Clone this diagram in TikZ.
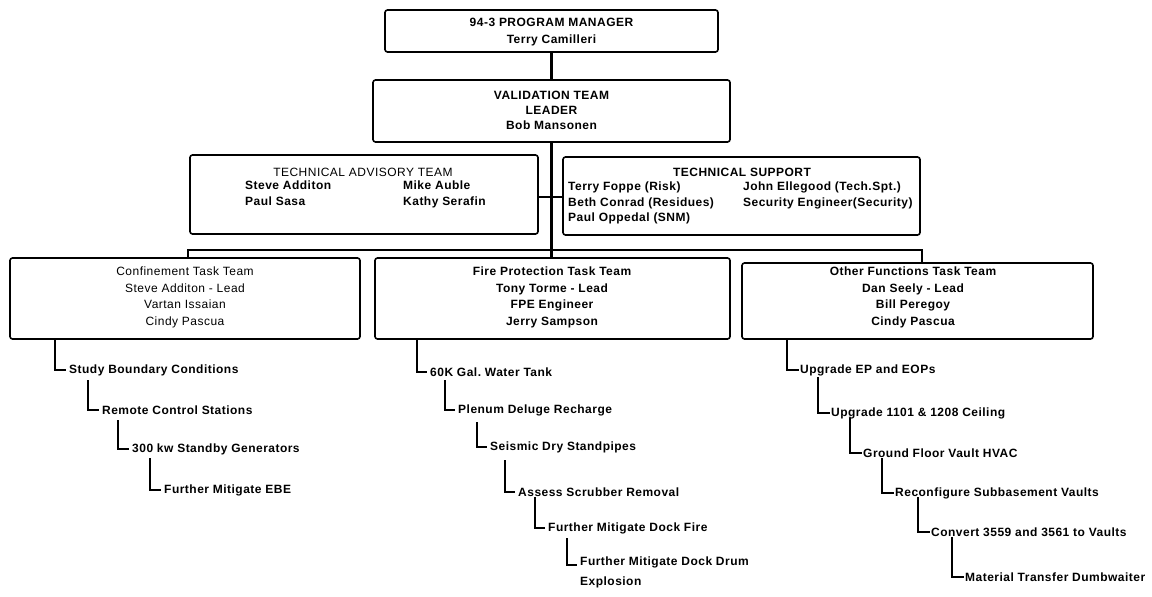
\documentclass[tikz,border=0pt]{standalone}
\usepackage{fontspec}
\setmainfont{Liberation Sans}[LetterSpace=4]
\frenchspacing
\begin{document}
\begin{tikzpicture}[x=1pt,y=-1pt,
  box/.style={draw, line width=1.6pt, rounded corners=2.5pt, inner sep=0pt},
  conn/.style={line width=2.6pt},
  bt/.style={font=\bfseries\fontsize{12}{16.5}\selectfont, inner sep=0pt, align=center},
  rt/.style={font=\fontsize{12}{16.5}\selectfont, inner sep=0pt, align=center},
  colt/.style={font=\bfseries\fontsize{12}{15.5}\selectfont, inner sep=0pt, align=left, anchor=north west},
  item/.style={font=\bfseries\fontsize{12}{20}\selectfont, inner xsep=3pt, inner ysep=0pt, anchor=west, align=left},
  itemb/.style={item, inner xsep=1pt}]
\useasboundingbox (0,0) rectangle (1152,597);
% boxes
\node[box, minimum width=333pt, minimum height=42pt] (pm) at (551.5,31) {};
\node[box, minimum width=357pt, minimum height=62pt] (vt) at (551.5,111) {};
\node[box, minimum width=348pt, minimum height=79pt] (adv) at (364,194.5) {};
\node[box, minimum width=357pt, minimum height=78pt] (sup) at (741.5,196) {};
\node[box, minimum width=350pt, minimum height=81pt] (conf) at (185,298.5) {};
\node[box, minimum width=355pt, minimum height=81pt] (fp) at (552.5,298.5) {};
\node[box, minimum width=351pt, minimum height=76pt] (oth) at (917.5,301) {};
% box texts
\node[bt, anchor=north] (pmt) at (551.5,18) {94-3 PROGRAM MANAGER\\Terry Camilleri};
\node[bt, anchor=north, font=\bfseries\fontsize{12}{15}\selectfont] (vtt) at (551.5,91) {VALIDATION TEAM\\LEADER\\Bob Mansonen};
\node[rt] (advh) at (363,172) {TECHNICAL ADVISORY TEAM};
\node[colt, font=\bfseries\fontsize{12}{16}\selectfont] (adv1) at (245,181) {Steve Additon\\Paul Sasa};
\node[colt, font=\bfseries\fontsize{12}{16}\selectfont] (adv2) at (403,181) {Mike Auble\\Kathy Serafin};
\node[bt] (suph) at (742,172) {TECHNICAL SUPPORT};
\node[colt] (sup1) at (568,182) {Terry Foppe (Risk)\\Beth Conrad (Residues)\\Paul Oppedal (SNM)};
\node[colt] (sup2) at (743,182) {John Ellegood (Tech.Spt.)\\Security Engineer(Security)};
\node[rt, anchor=north] (conft) at (185,267) {Confinement Task Team\\Steve Additon - Lead\\Vartan Issaian\\Cindy Pascua};
\node[bt, anchor=north] (fpt) at (552,267) {Fire Protection Task Team\\Tony Torme - Lead\\FPE Engineer\\Jerry Sampson};
\node[bt, anchor=north] (otht) at (913,267) {Other Functions Task Team\\Dan Seely - Lead\\Bill Peregoy\\Cindy Pascua};
% top connectors
\coordinate (jadv) at (551.5,197);
\coordinate (busL) at (188,250);
\coordinate (busR) at (922,250);
\draw[conn] (pm.south) -- (vt.north);
\draw[conn] (vt.south) -- (vt.south |- fp.north);
\draw[conn] (adv.east |- jadv) -- (sup.west |- jadv);
\draw[conn] (busL |- conf.north) -- (busL) -- (busR) -- (busR |- oth.north);
% confinement items
\node[item] (c1) at (66,370) {Study Boundary Conditions};
\node[item] (c2) at (99,410) {Remote Control Stations};
\node[item] (c3) at (129,449) {300 kw Standby Generators};
\node[item] (c4) at (161,490) {Further Mitigate EBE};
\coordinate (c2t) at (88,380);
\coordinate (c3t) at (118,420);
\coordinate (c4t) at (150,458);
\draw[conn] (conf.south -| 55,0) |- (c1.west);
\draw[conn] (c2t) |- (c2.west);
\draw[conn] (c3t) |- (c3.west);
\draw[conn] (c4t) |- (c4.west);
% fire protection items
\node[item] (f1) at (427,372) {60K Gal. Water Tank};
\node[item] (f2) at (455,410) {Plenum Deluge Recharge};
\node[item] (f3) at (487,447) {Seismic Dry Standpipes};
\node[item] (f4) at (515,492) {Assess Scrubber Removal};
\node[item] (f5) at (545,528) {Further Mitigate Dock Fire};
\node[item, anchor=north west] (f6) at (577,557) {Further Mitigate Dock Drum\\Explosion};
\coordinate (f2t) at (445,380);
\coordinate (f3t) at (477,422);
\coordinate (f4t) at (505,460);
\coordinate (f5t) at (535,497);
\coordinate (f6t) at (567,538);
\draw[conn] (fp.south -| 417,0) |- (f1.west);
\draw[conn] (f2t) |- (f2.west);
\draw[conn] (f3t) |- (f3.west);
\draw[conn] (f4t) |- (f4.west);
\draw[conn] (f5t) |- (f5.west);
\draw[conn] (f6t) |- ([yshift=-8pt]f6.north west);
% other functions items
\node[itemb] (o1) at (799,370) {Upgrade EP and EOPs};
\node[itemb] (o2) at (830,413) {Upgrade 1101 \& 1208 Ceiling};
\node[itemb] (o3) at (862,453) {Ground Floor Vault HVAC};
\node[itemb] (o4) at (894,493) {Reconfigure Subbasement Vaults};
\node[itemb] (o5) at (930,532) {Convert 3559 and 3561 to Vaults};
\node[itemb] (o6) at (964,577) {Material Transfer Dumbwaiter};
\coordinate (o2t) at (818,377);
\coordinate (o3t) at (850,418);
\coordinate (o4t) at (882,458);
\coordinate (o5t) at (918,497);
\coordinate (o6t) at (952,537);
\draw[conn] (oth.south -| 787,0) |- (o1.west);
\draw[conn] (o2t) |- (o2.west);
\draw[conn] (o3t) |- (o3.west);
\draw[conn] (o4t) |- (o4.west);
\draw[conn] (o5t) |- (o5.west);
\draw[conn] (o6t) |- (o6.west);
\end{tikzpicture}
\end{document}
